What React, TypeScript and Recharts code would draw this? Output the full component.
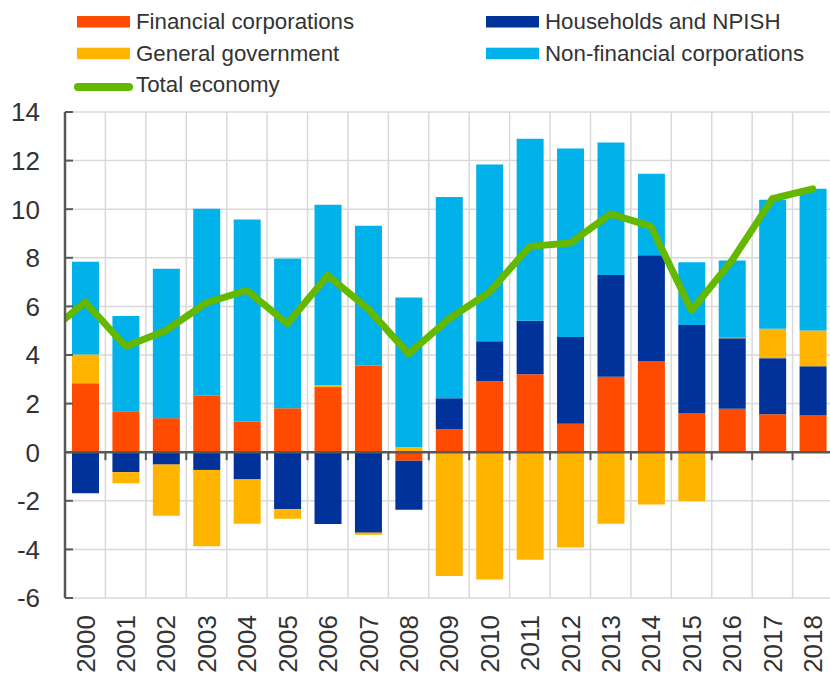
import React from 'react';
import { ComposedChart, Bar, Line, XAxis, YAxis, CartesianGrid, ReferenceLine } from 'recharts';

// values (percentage points)
const years = ['2000', '2001', '2002', '2003', '2004', '2005', '2006', '2007', '2008', '2009',
  '2010', '2011', '2012', '2013', '2014', '2015', '2016', '2017', '2018'];
const financial = [2.84, 1.69, 1.4, 2.32, 1.25, 1.81, 2.68, 3.57, -0.35, 0.95,
  2.92, 3.21, 1.17, 3.1, 3.75, 1.61, 1.79, 1.56, 1.51];
const households = [-1.69, -0.82, -0.51, -0.73, -1.12, -2.35, -2.95, -3.31, -2.02, 1.27,
  1.65, 2.2, 3.57, 4.19, 4.36, 3.62, 2.9, 2.31, 2.03];
const government = [1.18, -0.46, -2.11, -3.14, -1.82, -0.39, 0.09, -0.09, 0.2, -5.09,
  -5.24, -4.43, -3.92, -2.94, -2.15, -2.02, 0.02, 1.21, 1.47];
const nonFinancial = [3.82, 3.91, 6.15, 7.7, 8.33, 6.16, 7.41, 5.75, 6.17, 8.28,
  7.27, 7.49, 7.76, 5.45, 3.35, 2.59, 3.18, 5.31, 5.83];
// line starts off the left edge, so one earlier point is kept
const totalYears = [1999, 2000, 2001, 2002, 2003, 2004, 2005, 2006, 2007, 2008, 2009,
  2010, 2011, 2012, 2013, 2014, 2015, 2016, 2017, 2018];
const total = [4.8, 6.18, 4.35, 5.01, 6.15, 6.66, 5.29, 7.27, 5.9, 4.05, 5.49,
  6.59, 8.47, 8.61, 9.81, 9.29, 5.83, 7.89, 10.43, 10.84];
const yTicks = [-6, -4, -2, 0, 2, 4, 6, 8, 10, 12, 14];

const COLORS = {
  fin: '#FF4B00',
  hh: '#003299',
  gov: '#FFB400',
  nfc: '#00B1EA',
  total: '#65B800',
};
const AXIS = '#595959';
const GRID = '#d9d9d9';
const FONT = '"Liberation Sans", Arial, sans-serif';

const tableData = years.map((year, i) => ({
  year,
  fin: financial[i],
  hh: households[i],
  gov: government[i],
  nfc: nonFinancial[i],
}));
const lineData = totalYears.map((yr, i) => ({ yr, total: total[i] }));

const legendItems = [
  { name: 'Financial corporations', color: COLORS.fin, col: 0, row: 0 },
  { name: 'Households and NPISH', color: COLORS.hh, col: 1, row: 0 },
  { name: 'General government', color: COLORS.gov, col: 0, row: 1 },
  { name: 'Non-financial corporations', color: COLORS.nfc, col: 1, row: 1 },
  { name: 'Total economy', color: COLORS.total, col: 0, row: 2, line: true },
];

const YTick = (props: any) => {
  const { x, y, payload } = props;
  return (
    <g>
      <line x1={x + 25} x2={x + 33} y1={y} y2={y} stroke={AXIS} strokeWidth={2} />
      <text x={x} y={y} dy="0.36em" textAnchor="end" fontSize={26} fontFamily={FONT} fill="#333">
        {payload.value}
      </text>
    </g>
  );
};

const XTick = (props: any) => {
  const { x, y, payload } = props;
  return (
    <text x={x} y={y} dy="0.36em" textAnchor="end" transform={`rotate(-90 ${x} ${y})`}
      fontSize={26} fontFamily={FONT} fill="#333">
      {payload.value}
    </text>
  );
};

// zero line with small ticks at the category boundaries
const ZeroAxis = (props: any) => {
  const { x1, x2, y1 } = props;
  const step = (x2 - x1) / years.length;
  return (
    <g>
      <line x1={x1} x2={x2} y1={y1} y2={y1} stroke={AXIS} strokeWidth={2.5} />
      {years.map((_, i) => (
        <line key={i} x1={x1 + (i + 1) * step} x2={x1 + (i + 1) * step} y1={y1} y2={y1 + 8}
          stroke={AXIS} strokeWidth={2} />
      ))}
    </g>
  );
};

const LegendBlock = () => (
  <svg width={830} height={100} style={{ position: 'absolute', left: 0, top: 0 }}>
    {legendItems.map((it) => {
      const x = it.col === 0 ? 77 : 486;
      const base = 29 + it.row * 31.7;
      return (
        <g key={it.name}>
          {it.line ? (
            <line x1={x + 1} x2={x + 52} y1={base - 5.5} y2={base - 5.5} stroke={it.color}
              strokeWidth={8} strokeLinecap="round" />
          ) : (
            <rect x={x} y={base - 13} width={53} height={11.5} fill={it.color} />
          )}
          <text x={x + 59} y={base} fontSize={22.3} fontFamily={FONT} fill="#333">
            {it.name}
          </text>
        </g>
      );
    })}
  </svg>
);

export default function App() {
  return (
    <div style={{ position: 'absolute', left: 0, top: 0, width: 830, height: 673, overflow: 'hidden', background: '#fff' }}>
      <ComposedChart width={834} height={673} data={tableData} stackOffset="sign"
        margin={{ top: 112, right: 1, bottom: 0, left: 0 }}>
        <CartesianGrid stroke={GRID} strokeWidth={1.5}
          verticalCoordinatesGenerator={({ offset }: any) =>
            years.map((_, i) => offset.left + (i * offset.width) / years.length).concat(offset.left + offset.width)} />
        <XAxis dataKey="year" interval={0} height={75} axisLine={false} tickLine={false}
          tickSize={0} tickMargin={17} tick={<XTick />} />
        <XAxis xAxisId="num" type="number" dataKey="yr" domain={[1999.5, 2018.5]} hide allowDataOverflow />
        <YAxis width={65} domain={[-6, 14]} ticks={yTicks} interval={0} axisLine={{ stroke: AXIS, strokeWidth: 2.5 }}
          tickLine={false} tickSize={0} tickMargin={25} tick={<YTick />} />
        <Bar dataKey="fin" stackId="a" fill={COLORS.fin} barSize={27} isAnimationActive={false} />
        <Bar dataKey="hh" stackId="a" fill={COLORS.hh} barSize={27} isAnimationActive={false} />
        <Bar dataKey="gov" stackId="a" fill={COLORS.gov} barSize={27} isAnimationActive={false} />
        <Bar dataKey="nfc" stackId="a" fill={COLORS.nfc} barSize={27} isAnimationActive={false} />
        <ReferenceLine y={0} shape={<ZeroAxis />} />
        <Line xAxisId="num" data={lineData} dataKey="total" stroke={COLORS.total} strokeWidth={7}
          strokeLinejoin="round" strokeLinecap="round" dot={false} activeDot={false} isAnimationActive={false} />
      </ComposedChart>
      <LegendBlock />
    </div>
  );
}
